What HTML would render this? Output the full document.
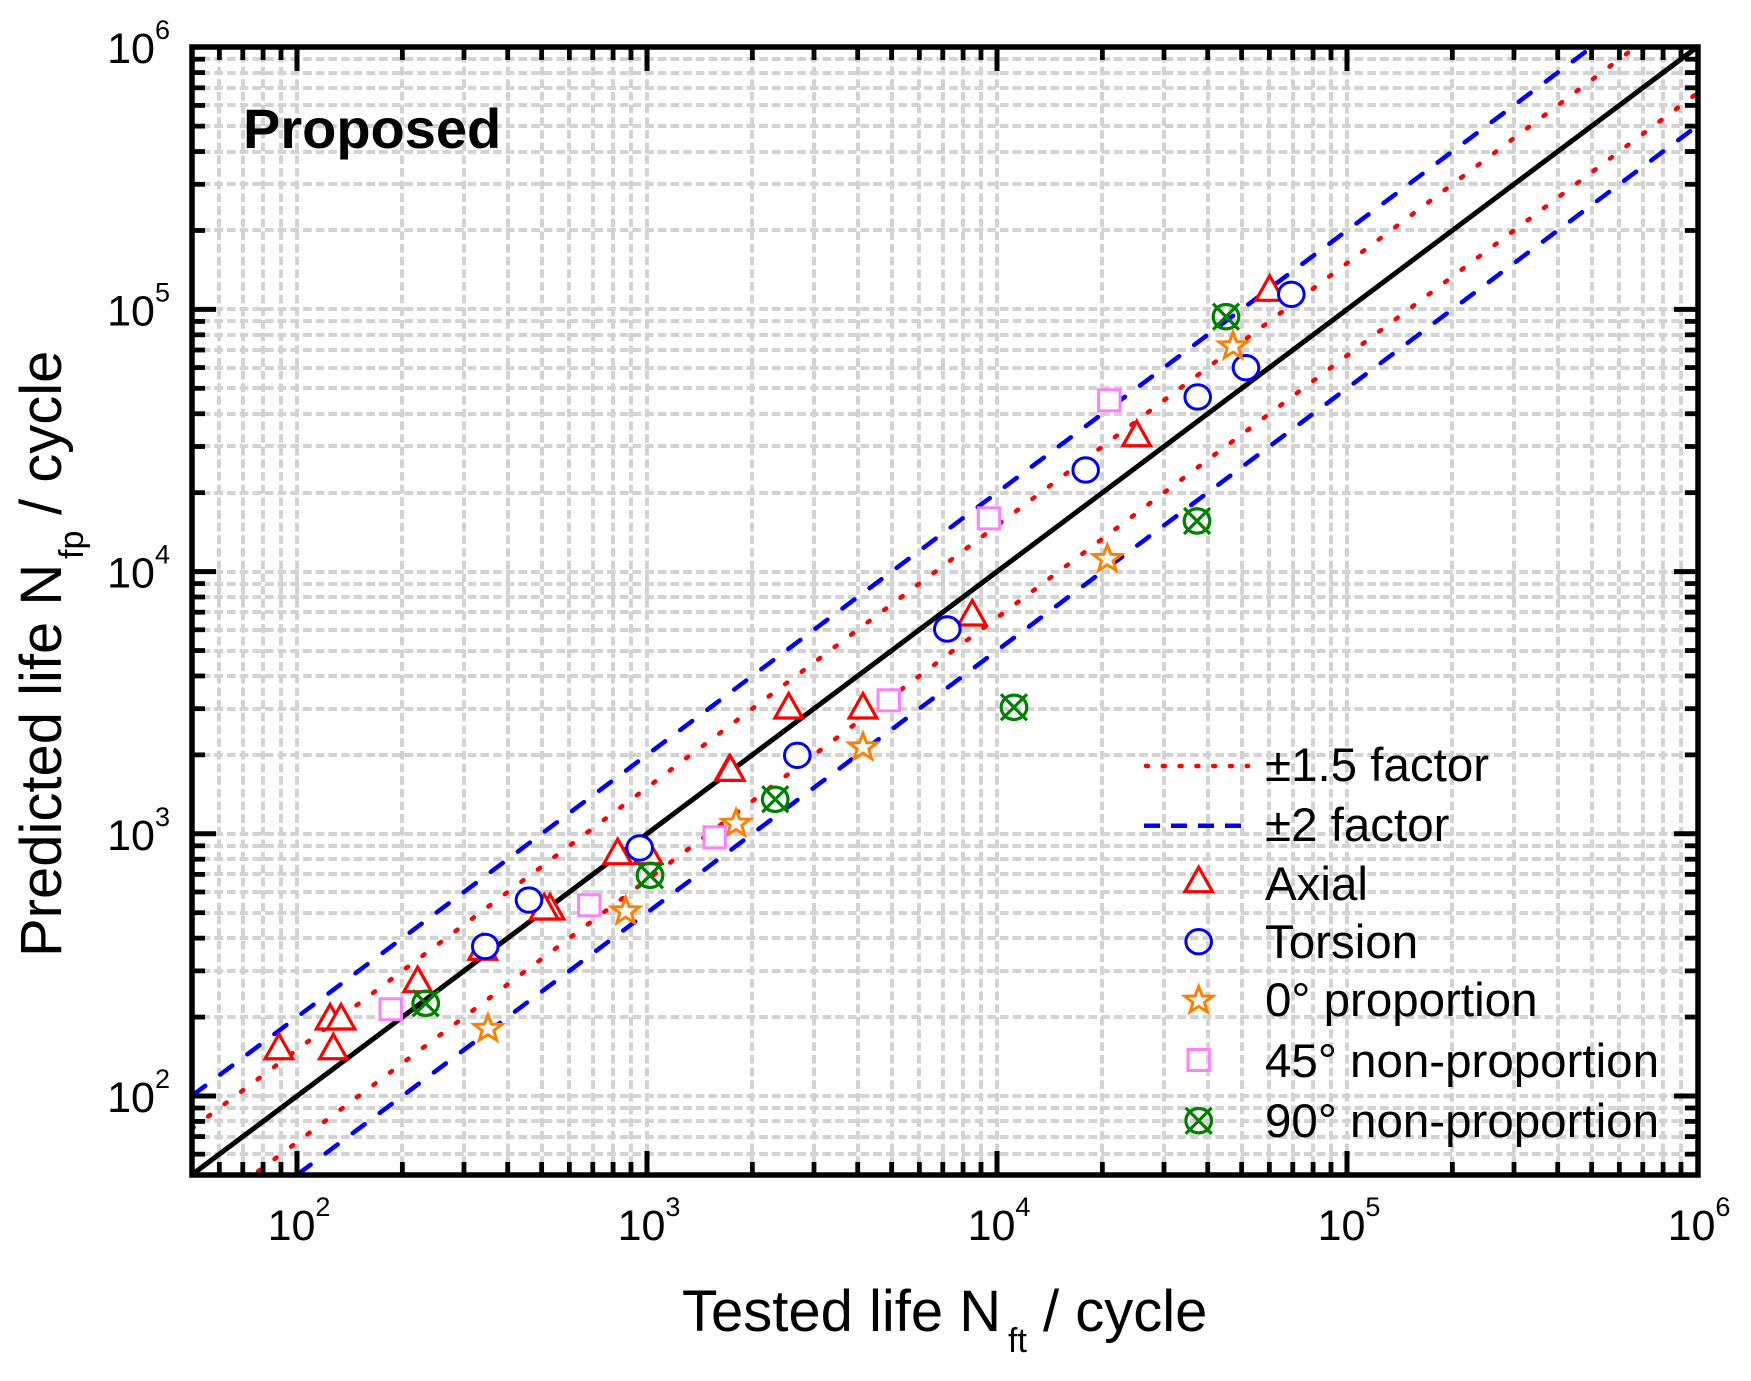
<!DOCTYPE html>
<html lang="en">
<head>
<meta charset="utf-8">
<title>Predicted vs tested life</title>
<style>
html,body{margin:0;padding:0;background:#fff;}
svg{display:block;}
text{font-family:"Liberation Sans",Arial,sans-serif;fill:#000;}
</style>
</head>
<body>
<svg id="chart" xmlns="http://www.w3.org/2000/svg" width="1751" height="1381" viewBox="0 0 1751 1381">
  <defs>
    <clipPath id="plot-clip"><rect x="192" y="47" width="1506" height="1128"/></clipPath>
  </defs>
  <rect x="0" y="0" width="1751" height="1381" fill="#fff"/>
  <g id="grid"></g>
  <g id="lines" clip-path="url(#plot-clip)"></g>
  <g id="ticks"></g>
  <rect x="192" y="47" width="1506" height="1128" fill="none" stroke="#000" stroke-width="5.5"/>
  <g id="markers"></g>
  <g id="tick-labels"></g>

  <text x="243" y="148" font-size="56" font-weight="bold">Proposed</text>

  <text x="682" y="1331" font-size="58">Tested life N<tspan x="1008" dy="21" font-size="34">ft</tspan><tspan x="1043" dy="-21">/ cycle</tspan></text>
  <text transform="translate(61,953) rotate(-90)" x="-4" y="0" font-size="58">Predicted life N<tspan x="394" dy="22" font-size="34">fp</tspan><tspan x="438" dy="-22">/ cycle</tspan></text>

  <g id="legend">
    <line x1="1146" y1="766" x2="1248" y2="766" stroke="#f00" stroke-width="4.5" stroke-linecap="round" stroke-dasharray="2 14.8"/>
    <line x1="1144" y1="825.7" x2="1242" y2="825.7" stroke="#00f" stroke-width="4.5" stroke-dasharray="16 11"/>
    <text x="1265" y="781" font-size="47.5">±1.5 factor</text>
    <text x="1265" y="841" font-size="47.5">±2 factor</text>
    <text x="1265" y="900" font-size="47.5">Axial</text>
    <text x="1265" y="958" font-size="47.5">Torsion</text>
    <text x="1265" y="1016" font-size="47.5">0° proportion</text>
    <text x="1265" y="1077" font-size="47.5">45° non-proportion</text>
    <text x="1265" y="1137" font-size="47.5">90° non-proportion</text>
  </g>
</svg>
<script>
// ---- chart data ----
const axialTested = [88.8,127,124.3,133.6,221.2,339.4,528.4,508.8,824.6,1007,1719,1730,2540,4141,8500,25070,60130];
const axialPredicted = [155.5,155.5,201.9,201.9,280.2,372.3,530.4,530.4,862.2,862,1793,1793,3099,3099,7012,33870,121400];
const torsionTested = [345,460,953,2688,7211,17920,37450,51450,69330];
const torsionPredicted = [372,559,883,1992,6041,24410,46340,59950,114200];
const prop0Tested = [351.3,869,1796,4141,20660,47230];
const prop0Predicted = [182.5,512,1106,2162,11300,73150];
const nonProp45Tested = [185.3,684,1561,4905,9487,20940];
const nonProp45Predicted = [214.2,533.8,969.6,3230,15970,45010];
const nonProp90Tested = [233.2,1020,2325,11180,37280,45110];
const nonProp90Predicted = [225.7,694.5,1354,3037,15600,93800];
const solidFactors = [1];
const dottedFactors = [1.5, 0.6667];
const dashedFactors = [2, 0.5];
const majorTicks = [100,1000,10000,100000,1000000];
const majorExponents = ['2','3','4','5','6'];
const minorMultipliers = [2,3,4,5,6,7,8,9];
const minorDecades = [10,100,1000,10000,100000];
const axisMin = 50;
const axisMax = 1000000;

// ---- axis functions ----
const NS = 'http://www.w3.org/2000/svg';
function xPos(v){ return 297 + 350 * (Math.log10(v) - 2); }
function yPos(v){ return 1096 - 262.2 * (Math.log10(v) - 2); }
function mk(tag, parent, attrs){
  const el = document.createElementNS(NS, tag);
  for (const k in attrs) el.setAttribute(k, attrs[k]);
  parent.appendChild(el);
  return el;
}
const gridG = document.getElementById('grid');
const linesG = document.getElementById('lines');
const ticksG = document.getElementById('ticks');
const markersG = document.getElementById('markers');
const labelsG = document.getElementById('tick-labels');
const legendG = document.getElementById('legend');

const minorVals = [];
minorDecades.forEach(function(d){
  minorMultipliers.forEach(function(m){
    const v = d * m;
    if (v > axisMin && v < axisMax) minorVals.push(v);
  });
});
const allVals = minorVals.concat(majorTicks.slice(0, -1));

// grid
allVals.forEach(function(v){
  const gx = mk('line', gridG, {x1:Math.round(xPos(v)), x2:Math.round(xPos(v)), y1:47, y2:1175, stroke:'#d3d3d3', 'stroke-width':4, 'stroke-dasharray':'8.7 3.97', 'stroke-dashoffset':5.7});
  
  
  const gy = mk('line', gridG, {x1:192, x2:1698, y1:Math.round(yPos(v)), y2:Math.round(yPos(v)), stroke:'#d3d3d3', 'stroke-width':4, 'stroke-dasharray':'8.7 3.97', 'stroke-dashoffset':3});
  
  
});

// factor lines
function factorLine(k, attrs, name){
  const x0 = Math.max(axisMin, axisMin / k);
  const base = {x1:xPos(x0), y1:yPos(k * x0), x2:xPos(axisMax), y2:yPos(k * axisMax), fill:'none'};
  const el = mk('line', linesG, Object.assign(base, attrs));
  
  
}
dashedFactors.forEach(function(k){
  factorLine(k, {stroke:'#00f', 'stroke-width':4.5, 'stroke-linecap':'round', 'stroke-dasharray':'15 18.8', 'stroke-dashoffset':-2}, 'two-factor-line');
});
dottedFactors.forEach(function(k){
  factorLine(k, {stroke:'#f00', 'stroke-width':4.5, 'stroke-linecap':'round', 'stroke-dasharray':'2.5 18.1', 'stroke-dashoffset':(k < 1 ? -6 : 0)}, 'one-point-five-factor-line');
});
solidFactors.forEach(function(k){
  factorLine(k, {stroke:'#000', 'stroke-width':5}, 'unity-line');
});

// ticks
function tickPair(v, lenX, lenY, w){
  const x = xPos(v), y = yPos(v);
  const segs = [
    [x,1175,x,1175-lenX],[x,47,x,47+lenX],
    [192,y,192+lenY,y],[1698,y,1698-lenY,y]
  ];
  segs.forEach(function(s){
    const t = mk('line', ticksG, {x1:s[0], y1:s[1], x2:s[2], y2:s[3], stroke:'#000', 'stroke-width':w});
    
    
  });
}
minorVals.forEach(function(v){ tickPair(v, 13, 13, 4.8); });
majorTicks.slice(0, -1).forEach(function(v){ tickPair(v, 24, 24, 5); });

// tick labels
majorTicks.forEach(function(v, i){
  const xl = mk('text', labelsG, {x:xPos(v) + 2, y:1240, 'font-size':43, 'text-anchor':'middle'});
  
  
  xl.appendChild(document.createTextNode('10'));
  const xs = mk('tspan', xl, {dy:-24, 'font-size':27});
  xs.textContent = majorExponents[i];
  const yl = mk('text', labelsG, {x:170, y:yPos(v) + 16, 'font-size':43, 'text-anchor':'end'});
  
  
  yl.appendChild(document.createTextNode('10'));
  const ys = mk('tspan', yl, {dy:-24, 'font-size':27});
  ys.textContent = majorExponents[i];
});

// markers
function triangle(parent, x, y){
  return mk('path', parent, {d:'M'+(x-13.8)+' '+(y+13)+'L'+(x+13.8)+' '+(y+13)+'L'+x+' '+(y-11.5)+'Z', fill:'#fff', stroke:'#f00', 'stroke-width':3.2});
}
function circle(parent, x, y){
  return mk('ellipse', parent, {cx:x, cy:y, rx:12.8, ry:12.2, fill:'#fff', stroke:'#00f', 'stroke-width':3});
}
function star(parent, x, y){
  const R = 14, r = 5.8, pts = [];
  for (let i = 0; i < 10; i++){
    const a = -Math.PI / 2 + i * Math.PI / 5, q = i % 2 ? r : R;
    pts.push((x + q * Math.cos(a) * 1.05).toFixed(2) + ',' + (y + 1.3 + q * Math.sin(a)).toFixed(2));
  }
  return mk('polygon', parent, {points:pts.join(' '), fill:'#fff', stroke:'#ff8000', 'stroke-width':3});
}
function square(parent, x, y){
  return mk('rect', parent, {x:x-10.7, y:y-10.5, width:21.4, height:21, fill:'#fff', stroke:'#ff80ff', 'stroke-width':3});
}
function crossed(parent, x, y){
  const g = mk('g', parent, {fill:'none', stroke:'#008000', 'stroke-width':3.2});
  mk('ellipse', g, {cx:x, cy:y, rx:12.8, ry:12.2});
  mk('path', g, {d:'M'+(x-13)+' '+(y-13)+'L'+(x+13)+' '+(y+13)+'M'+(x-13)+' '+(y+13)+'L'+(x+13)+' '+(y-13)});
  return g;
}
axialTested.forEach(function(v, i){
  const m = triangle(markersG, xPos(v), yPos(axialPredicted[i]));
  
  
});
torsionTested.forEach(function(v, i){
  const m = circle(markersG, xPos(v), yPos(torsionPredicted[i]));
  
  
});
prop0Tested.forEach(function(v, i){
  const m = star(markersG, xPos(v), yPos(prop0Predicted[i]));
  
  
});
nonProp45Tested.forEach(function(v, i){
  const m = square(markersG, xPos(v), yPos(nonProp45Predicted[i]));
  
  
});
nonProp90Tested.forEach(function(v, i){
  const m = crossed(markersG, xPos(v), yPos(nonProp90Predicted[i]));
  
  
});

// legend symbols
const legendAxial = triangle(legendG, 1198.7, 878.7);


legendAxial.setAttribute('fill', 'none');
const legendTorsion = circle(legendG, 1198.7, 941.7);


legendTorsion.setAttribute('fill', 'none');
const legendStar = star(legendG, 1198.7, 999.3);


legendStar.setAttribute('fill', 'none');
const legendSquare = square(legendG, 1198.7, 1060);


legendSquare.setAttribute('fill', 'none');
const legendCross = crossed(legendG, 1198.7, 1120.7);


</script>
</body>
</html>
